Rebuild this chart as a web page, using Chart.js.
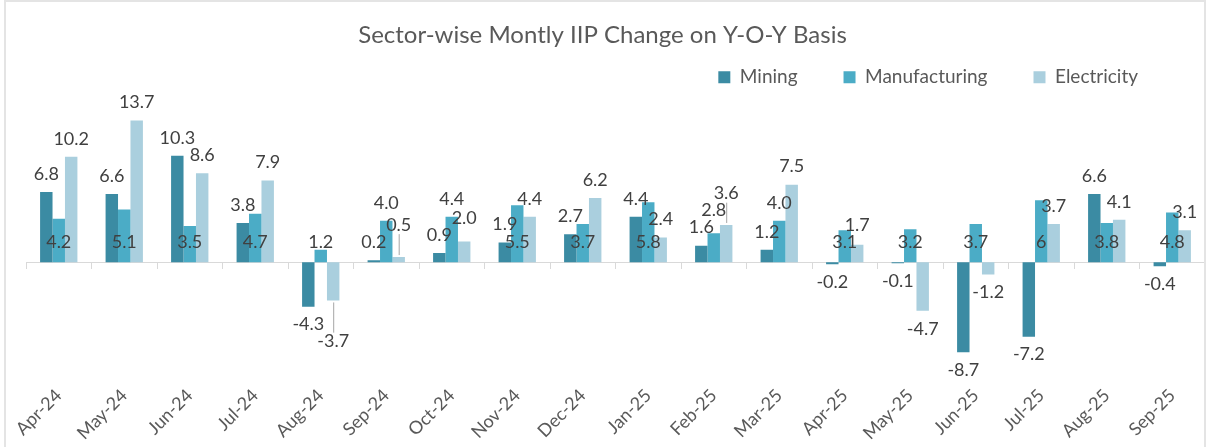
<!DOCTYPE html>
<html>
<head>
<meta charset="utf-8">
<script src="https://cdn.jsdelivr.net/npm/chart.js@4.4.1/dist/chart.umd.min.js"></script>
<style>
  html, body { margin: 0; padding: 0; background: #fff; }
  #wrap { position: relative; width: 1208px; height: 447px; overflow: hidden; }
  #frame { position: absolute; left: 4px; top: 0; width: 1202px; height: 470px; border: 2px solid #e4e4e4; box-sizing: border-box; pointer-events: none; }
  canvas { position: absolute; left: 0; top: 0; }
</style>
</head>
<body>
<div id="wrap">
  <canvas id="iipChart" width="1208" height="447"></canvas>
  <div id="frame"></div>
</div>
<script>
// months on the x axis
var months = ['Apr-24', 'May-24', 'Jun-24', 'Jul-24', 'Aug-24', 'Sep-24', 'Oct-24', 'Nov-24', 'Dec-24',
              'Jan-25', 'Feb-25', 'Mar-25', 'Apr-25', 'May-25', 'Jun-25', 'Jul-25', 'Aug-25', 'Sep-25'];

// y-o-y change, % (kept as printed in the report)
var mining        = ['6.8', '6.6', '10.3', '3.8', '-4.3', '0.2', '0.9', '1.9', '2.7', '4.4', '1.6', '1.2', '-0.2', '-0.1', '-8.7', '-7.2', '6.6', '-0.4'];
var manufacturing = ['4.2', '5.1', '3.5', '4.7', '1.2', '4.0', '4.4', '5.5', '3.7', '5.8', '2.8', '4.0', '3.1', '3.2', '3.7', '6', '3.8', '4.8'];
var electricity   = ['10.2', '13.7', '8.6', '7.9', '-3.7', '0.5', '2.0', '4.4', '6.2', '2.4', '3.6', '7.5', '1.7', '-4.7', '-1.2', '3.7', '4.1', '3.1'];

// value labels on the bars, pushed apart when they collide
var barLabels = {
    id: 'barLabels',
    afterDatasetsDraw: function (chart) {
        var ctx = chart.ctx;
        var zeroY = chart.scales.y.getPixelForValue(0);
        var h = 16, gap = 18;
        var placed = [];

        function hits(b) {
            for (var k = 0; k < placed.length; k++) {
                var p = placed[k];
                if (b.x1 < p.x2 && b.x2 > p.x1 && b.y1 < p.y2 && b.y2 > p.y1) return p;
            }
            return null;
        }

        ctx.save();
        ctx.font = '18px Lato';
        ctx.textAlign = 'center';
        ctx.textBaseline = 'middle';
        chart.data.datasets.forEach(function (ds, di) {
            chart.getDatasetMeta(di).data.forEach(function (bar, i) {
                var text = ds.data[i];
                var v = +text;
                var w = ctx.measureText(text).width + 2;
                var up = v >= 0;
                var endY = up ? bar.y - gap : bar.y + gap;
                var y = endY;
                if (ds.labelInside && up) {
                    y = zeroY - 20;
                    var b0 = { x1: bar.x - w / 2, x2: bar.x + w / 2, y1: y - h / 2, y2: y + h / 2 };
                    if (hits(b0)) y = endY;
                }
                var box, p;
                for (var n = 0; n < 10; n++) {
                    box = { x1: bar.x - w / 2, x2: bar.x + w / 2, y1: y - h / 2, y2: y + h / 2 };
                    p = hits(box);
                    if (!p) break;
                    y = up ? p.y1 - h / 2 - 1 : p.y2 + h / 2 + 1;
                }
                placed.push(box);
                // leader line when a label got pushed away from its bar
                if (Math.abs(y - endY) > 8 && !(ds.labelInside && y === zeroY - 20)) {
                    ctx.strokeStyle = '#a6a6a6';
                    ctx.lineWidth = 1;
                    ctx.beginPath();
                    ctx.moveTo(bar.x + 0.5, up ? bar.y - 2 : bar.y + 2);
                    ctx.lineTo(bar.x + 0.5, up ? y + h / 2 + 1 : y - h / 2 - 1);
                    ctx.stroke();
                }
                ctx.fillStyle = '#404040';
                ctx.fillText(text, bar.x, y);
            });
        });
        ctx.restore();
    }
};

// title centred on the whole picture, legend a bit in from the right edge
var boxShift = {
    id: 'boxShift',
    afterLayout: function (chart) {
        chart.titleBlock.left -= 26;
        chart.legend.right -= 21;
    }
};

var ctx = document.getElementById('iipChart').getContext('2d');
window.iipBar = new Chart(ctx, {
    type: 'bar',
    data: {
        labels: months,
        datasets: [{
            label: 'Mining',
            backgroundColor: '#3b8ba3',
            data: mining
        }, {
            label: 'Manufacturing',
            backgroundColor: '#4bacc6',
            data: manufacturing,
            labelInside: true
        }, {
            label: 'Electricity',
            backgroundColor: '#aacfde',
            data: electricity
        }]
    },
    plugins: [barLabels, boxShift],
    options: {
        responsive: false,
        animation: false,
        categoryPercentage: 0.57,
        barPercentage: 1.0,
        layout: {
            padding: { left: 26, right: 3, top: 0, bottom: 0 }
        },
        plugins: {
            title: {
                display: true,
                text: 'Sector-wise Montly IIP Change on Y-O-Y Basis',
                color: '#595959',
                font: { family: 'Lato', size: 24, weight: 'normal' },
                padding: { top: 21, bottom: -28 }
            },
            legend: {
                position: 'top',
                align: 'end',
                labels: {
                    color: '#595959',
                    font: { family: 'Lato', size: 19 },
                    boxWidth: 12,
                    boxHeight: 12,
                    padding: 46
                }
            },
            tooltip: { enabled: false }
        },
        scales: {
            x: {
                grid: { display: false },
                border: { display: false },
                ticks: {
                    color: '#595959',
                    font: { family: 'Lato', size: 18 },
                    minRotation: 45,
                    maxRotation: 45,
                    autoSkip: false
                }
            },
            xZero: {
                type: 'category',
                axis: 'x',
                position: { y: 0 },
                offset: true,
                grid: { offset: true, drawOnChartArea: false, color: '#d9d9d9', tickLength: 6 },
                border: { color: '#d9d9d9' },
                ticks: { display: false }
            },
            y: {
                display: false,
                min: -10.8,
                max: 16
            }
        }
    }
});
</script>
</body>
</html>
